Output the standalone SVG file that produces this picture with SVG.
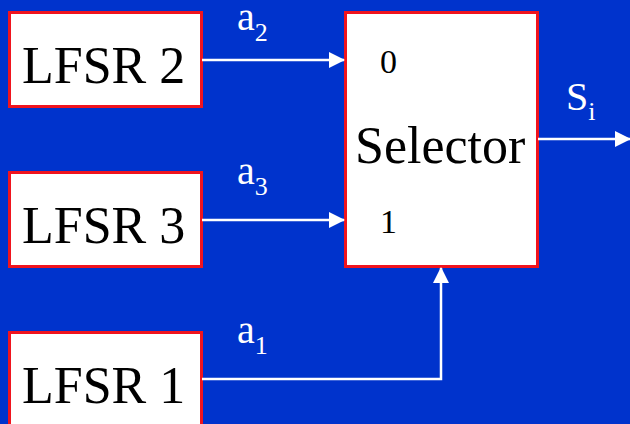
<svg xmlns="http://www.w3.org/2000/svg" width="630" height="424" viewBox="0 0 630 424">
<defs>
<style>
.box{fill:#fff;stroke:#f0141e;stroke-width:3}
.t{font-family:'Liberation Serif','Times New Roman','DejaVu Serif',serif;fill:#000}
.lbl{font-family:'Liberation Serif','Times New Roman','DejaVu Serif',serif;fill:#fff;font-size:40px}
.sub{font-size:26px}
.w{stroke:#fff;stroke-width:2.5;fill:none}
</style>
<marker id="ah" markerWidth="16" markerHeight="16" viewBox="0 0 16 16" refX="15" refY="8" orient="auto" markerUnits="userSpaceOnUse">
<path d="M0,0 L16,8 L0,16 Z" fill="#fff"/>
</marker>
</defs>
<rect width="630" height="424" fill="#0033cc"/>
<g id="lfsr2">
<rect class="box" x="9.5" y="12.5" width="192" height="94"/>
<text class="t" x="22" y="83" font-size="52">LFSR 2</text>
</g>
<g id="lfsr3">
<rect class="box" x="9.5" y="172.5" width="192" height="94"/>
<text class="t" x="22" y="243" font-size="52">LFSR 3</text>
</g>
<g id="lfsr1">
<rect class="box" x="9.5" y="332.5" width="192" height="100"/>
<text class="t" x="22" y="403" font-size="52">LFSR 1</text>
</g>
<g id="selector">
<rect class="box" x="345.5" y="12.5" width="192" height="254"/>
<text class="t" x="355" y="163" font-size="52">Selector</text>
<text class="t" x="380" y="73" font-size="34">0</text>
<text class="t" x="380" y="233" font-size="34">1</text>
</g>
<g id="connectors">
<line class="w" x1="202" y1="60" x2="344" y2="60" marker-end="url(#ah)"/>
<line class="w" x1="202" y1="220" x2="344" y2="220" marker-end="url(#ah)"/>
<polyline class="w" points="202,379 441,379 441,268" marker-end="url(#ah)"/>
<line class="w" x1="538" y1="139" x2="630" y2="139" marker-end="url(#ah)"/>
</g>
<g id="labels">
<text class="lbl" x="237" y="30">a<tspan class="sub" dy="11">2</tspan></text>
<text class="lbl" x="237" y="184">a<tspan class="sub" dy="11">3</tspan></text>
<text class="lbl" x="237" y="343">a<tspan class="sub" dy="11">1</tspan></text>
<text class="lbl" x="566" y="110">S<tspan class="sub" dy="10">i</tspan></text>
</g>
</svg>
